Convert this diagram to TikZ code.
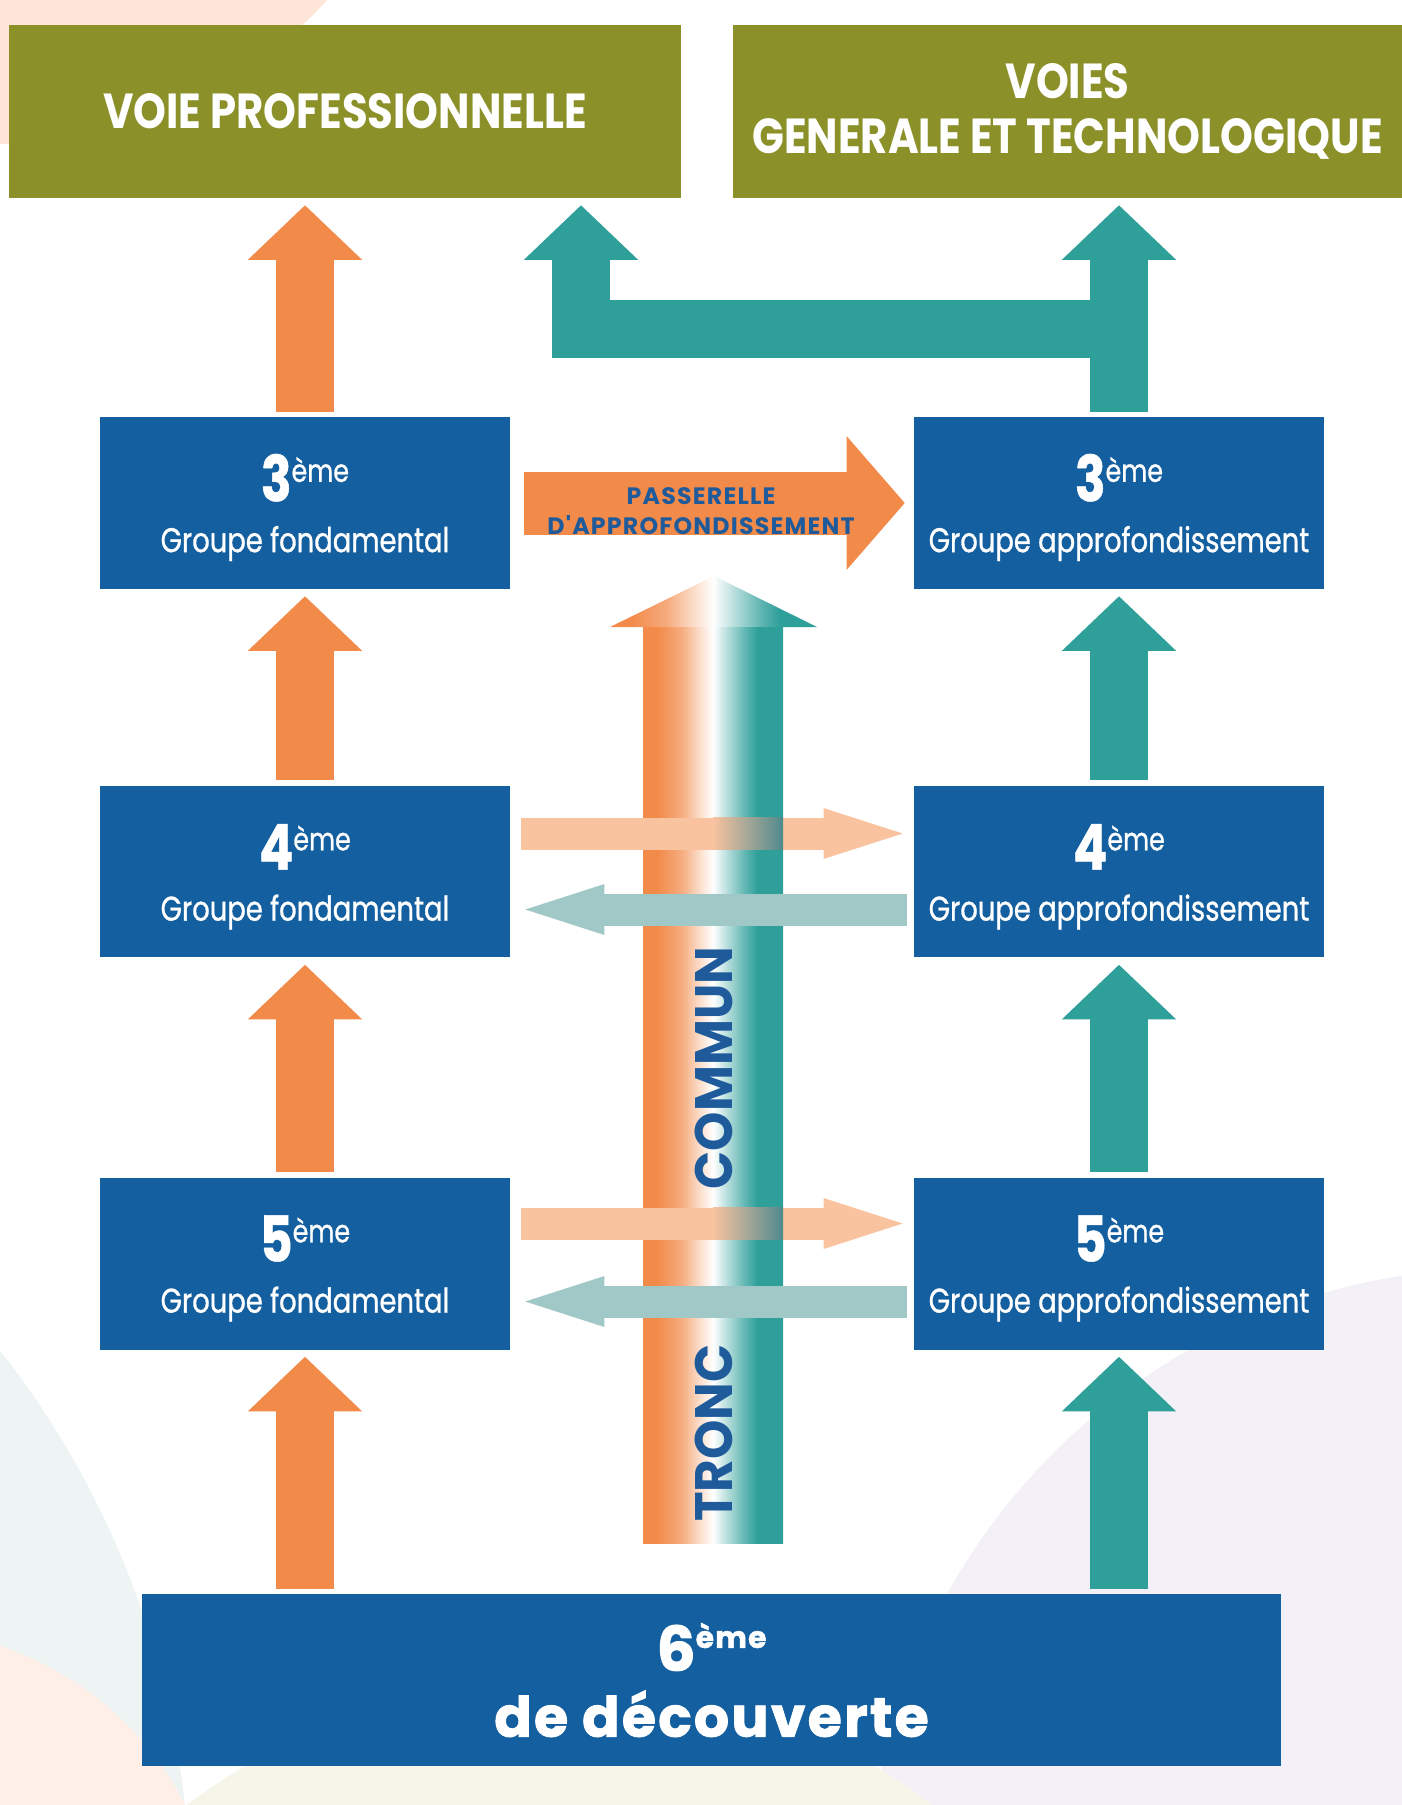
\documentclass[tikz,border=0pt]{standalone}
\usepackage{fontspec}
\setmainfont{Poppins}
\newfontfamily\futbook[FakeStretch=0.8,FakeBold=0.8]{Poppins}
\newfontfamily\futhead[FakeStretch=0.85]{Poppins}
\newfontfamily\futwide[LetterSpace=5]{Poppins}
\newfontfamily\futheavy[LetterSpace=4,FakeBold=1.6]{Poppins}
\newfontfamily\futtronc[FakeStretch=0.95]{Poppins}
\usetikzlibrary{arrows.meta,positioning,calc}

\definecolor{voieolive}{HTML}{8C9029}
\definecolor{boxblue}{HTML}{145FA0}
\definecolor{arrorange}{HTML}{F28A4A}
\definecolor{arrteal}{HTML}{2F9F9A}
\definecolor{lightpeach}{HTML}{F9C3A0}
\definecolor{lightteal}{HTML}{A0C8C7}
\definecolor{overteal}{HTML}{4E8A8D}
\definecolor{textblue}{HTML}{1F5B9B}
\definecolor{bgpeach}{HTML}{FDE6D8}
\definecolor{bggrey}{HTML}{EEF3F3}
\definecolor{bglilac}{HTML}{F4F0F8}
\definecolor{bgcream}{HTML}{F6F5EA}

\pgfdeclarehorizontalshading{troncshade}{100bp}{color(0bp)=(arrorange); color(30bp)=(arrorange); color(39bp)=(arrorange!70!white); color(45bp)=(arrorange!30!white); color(50bp)=(white); color(55bp)=(arrteal!35!white); color(62bp)=(arrteal!80!white); color(66bp)=(arrteal); color(100bp)=(arrteal)}

\newcommand{\rang}[1]{\rule{0pt}{32pt}{\bfseries\fontsize{36}{36}\selectfont #1}\raisebox{11pt}{\fontsize{18}{18}\selectfont ème}}
\newcommand{\rangsix}[1]{{\fontsize{35}{35}\selectfont #1}\raisebox{13pt}{\fontsize{17}{17}\selectfont ème}}

\tikzset{
  olivebox/.style={fill=voieolive, text=white, minimum height=3.46cm, inner sep=0pt, align=center,
    font=\futhead\bfseries\fontsize{28}{31.5}\selectfont},
  bluebox/.style={fill=boxblue, text=white, minimum width=8.2cm, minimum height=3.44cm, inner sep=0pt, align=center,
    font=\futbook\fontsize{19.5}{29}\selectfont},
  orangeup/.style={draw=arrorange, line width=1.16cm, line join=miter,
    -{Triangle[length=31pt,width=65pt,line width=0pt]}, shorten <=0.1cm, shorten >=0.14cm},
  tealup/.style={orangeup, draw=arrteal},
  passarrow/.style={draw=arrorange, line width=1.26cm,
    -{Triangle[length=33pt,width=76pt,line width=0pt]}, shorten <=0.28cm, shorten >=0.18cm},
  peachright/.style={draw=lightpeach, line width=0.64cm,
    -{Triangle[length=45pt,width=29pt,line width=0pt]}, shorten <=0.22cm, shorten >=0.22cm},
  tealleft/.style={draw=lightteal, line width=0.64cm,
    -{Triangle[length=45pt,width=29pt,line width=0pt]}, shorten <=0.14cm, shorten >=0.3cm},
  tronctext/.style={rotate=90, text=textblue, inner sep=0pt, font=\futtronc\bfseries\fontsize{30}{30}\selectfont}
}

\begin{document}
\begin{tikzpicture}[x=0.02cm,y=-0.02cm]
\useasboundingbox (0,0) rectangle (1402,1805);

% pale round shapes behind
\begin{scope}
\clip (0,0) rectangle (1402,1805);
\fill[bgpeach] (0,-300) circle (8.88cm);
\fill[bggrey] (-700,1900) circle (17.8cm);
\fill[bglilac] (1500,1900) circle (12.64cm);
\fill[bgcream] (560,2300) circle (12.4cm);
\fill[bgpeach!60] (-100,1950) circle (6.4cm);
\end{scope}

% voies
\node[olivebox, minimum width=13.44cm] (vp) at (345,111.5) {VOIE PROFESSIONNELLE};
\node[olivebox, minimum width=13.38cm] (vgt) at (1067.5,111.5) {VOIES\\GENERALE ET TECHNOLOGIQUE};

% groupes
\node[bluebox] (f3) at (305,503) {\rang{3}\\Groupe fondamental};
\node[bluebox] (a3) at (1119,503) {\rang{3}\\Groupe approfondissement};
\node[bluebox] (f4) at (305,871.5) {\rang{4}\\Groupe fondamental};
\node[bluebox] (a4) at (1119,871.5) {\rang{4}\\Groupe approfondissement};
\node[bluebox] (f5) at (305,1263.5) {\rang{5}\\Groupe fondamental};
\node[bluebox] (a5) at (1119,1263.5) {\rang{5}\\Groupe approfondissement};
\node[bluebox, minimum width=22.78cm, font=\futheavy\bfseries\fontsize{31.5}{37.5}\selectfont] (d6) at (711.5,1680)
  {\rangsix{6}\\de découverte};

% tronc commun
\shade[shading=troncshade] (610,627) -- (817,627) -- (714,576) -- cycle;
\shade[shading=troncshade] (643,627) rectangle (783,1543);

% changements de groupe
\draw[peachright] ($(f4.east)+(0,-38)$) -- ($(a4.west)+(0,-38)$);
\shade[left color=lightpeach, right color=overteal] (713,817.5) rectangle (783,849.5);
\draw[tealleft] ($(a4.west)+(0,38)$) -- ($(f4.east)+(0,38)$);
\draw[peachright] ($(f5.east)+(0,-40)$) -- ($(a5.west)+(0,-40)$);
\shade[left color=lightpeach, right color=overteal] (713,1207.5) rectangle (783,1239.5);
\draw[tealleft] ($(a5.west)+(0,38)$) -- ($(f5.east)+(0,38)$);

\node[tronctext] (tronc) at (714,1433) {TRONC};
\node[tronctext] (commun) at (714,1068) {COMMUN};

% montees
\draw[orangeup] (d6.north -| f5.south) -- (f5.south);
\draw[orangeup] (f5.north) -- (f4.south);
\draw[orangeup] (f4.north) -- (f3.south);
\draw[orangeup] (f3.north) -- (f3.north |- vp.south);
\draw[tealup] (d6.north -| a5.south) -- (a5.south);
\draw[tealup] (a5.north) -- (a4.south);
\draw[tealup] (a4.north) -- (a3.south);
\draw[tealup] (a3.north) -- (a3.north |- vgt.south);
\coordinate (tj) at (1122,329);
\coordinate (tl) at (581,329);
\draw[tealup, shorten <=0pt] (tj) -- (tl) -- (tl |- vp.south);

% passerelle
\draw[passarrow] (f3.east) -- (a3.west)
  node[midway, xshift=-0.22cm, yshift=-0.16cm, text=textblue, align=center, font=\futwide\bfseries\fontsize{13.5}{17}\selectfont] (pass)
  {PASSERELLE\\D'APPROFONDISSEMENT};
\end{tikzpicture}
\end{document}
